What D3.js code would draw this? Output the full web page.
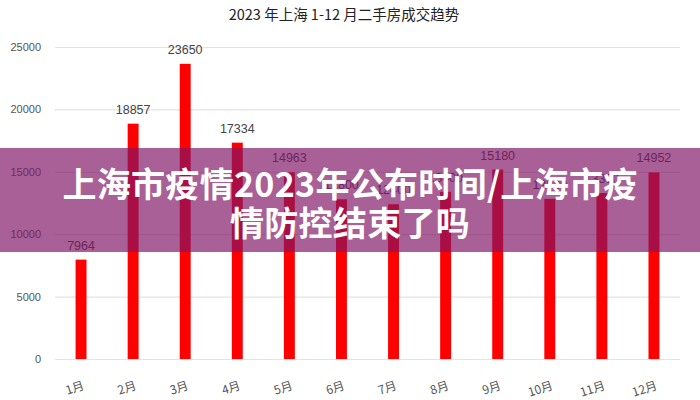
<!DOCTYPE html>
<html><head><meta charset="utf-8">
<script src="https://cdn.jsdelivr.net/npm/d3@7"></script>
<style>body{margin:0;background:#fff}svg{display:block}</style>
</head><body>
<svg id="c" width="700" height="400"></svg>
<script>
const months = ["1月","2月","3月","4月","5月","6月","7月","8月","9月","10月","11月","12月"];
const volumes = [7964, 18857, 23650, 17334, 14963, 12800, 12400, 13400, 15180, 12830, 13300, 14952];
const yTicks = [0, 5000, 10000, 15000, 20000, 25000];
const chartTitle = "2023 年上海 1-12 月二手房成交趋势";
const overlayLines = ["上海市疫情2023年公布时间/上海市疫", "情防控结束了吗"];

const svg = d3.select("#c");
const x = d3.scaleBand().domain(months).range([55, 680]).paddingInner(0.79).paddingOuter(0.395);
const y = d3.scaleLinear().domain([0, 25000]).range([359, 47]);

svg.append("text").attr("x", 344).attr("y", 20).attr("text-anchor", "middle")
  .attr("font-family", "Noto Sans CJK SC, sans-serif").attr("font-size", 14.5).attr("fill", "#222")
  .text(chartTitle);

const yAxis = svg.append("g").attr("transform", "translate(55,0)")
  .call(d3.axisLeft(y).tickValues(yTicks).tickSize(-625).tickPadding(14).tickFormat(d3.format("d")));
yAxis.select(".domain").remove();
yAxis.selectAll(".tick line").attr("stroke", "#e3e3e3").attr("stroke-width", 1.2);
yAxis.selectAll(".tick text").attr("fill", "#555").attr("font-size", 11)
  .attr("font-family", "Liberation Sans, Arial, sans-serif");

svg.append("g").selectAll("rect").data(volumes).join("rect")
  .attr("x", (d, i) => x(months[i])).attr("width", x.bandwidth())
  .attr("y", d => y(d)).attr("height", d => y(0) - y(d)).attr("fill", "#ff0000");

svg.append("g").selectAll("text").data(volumes).join("text")
  .attr("x", (d, i) => x(months[i]) + x.bandwidth() / 2).attr("y", d => y(d) - 10)
  .attr("text-anchor", "middle").attr("font-size", 12.5).attr("fill", "#444")
  .attr("font-family", "Liberation Sans, Arial, sans-serif").text(d => d);

const xAxis = svg.append("g").attr("transform", "translate(0,359)")
  .call(d3.axisBottom(x).tickSize(0).tickPadding(0));
xAxis.select(".domain").remove();
xAxis.selectAll(".tick text")
  .attr("font-family", "Noto Sans CJK SC, sans-serif").attr("font-size", 12).attr("fill", "#555")
  .attr("text-anchor", "end").attr("dy", 0)
  .attr("transform", "translate(4,30) rotate(-18)");

svg.append("rect").attr("x", 0).attr("y", 148).attr("width", 700).attr("height", 104)
  .attr("fill", "rgb(128,20,100)").attr("fill-opacity", 0.68);

svg.append("g").selectAll("text").data(overlayLines).join("text")
  .attr("x", 350).attr("y", (d, i) => 197 + i * 39).attr("text-anchor", "middle")
  .attr("font-family", "Noto Sans CJK SC, sans-serif").attr("font-weight", "bold")
  .attr("font-size", 34).attr("letter-spacing", 0.3).attr("fill", "#fff").text(d => d);
</script>
</body></html>
